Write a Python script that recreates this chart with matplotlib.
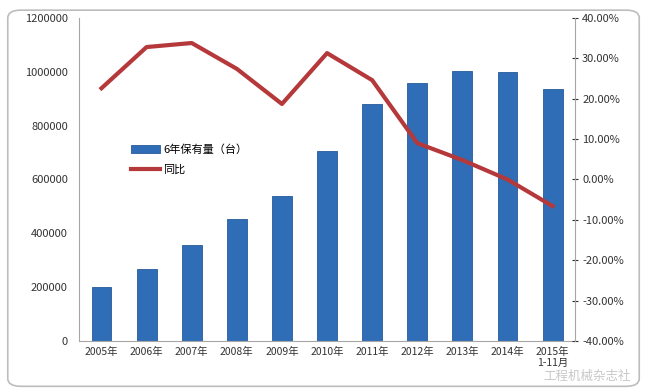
import matplotlib
matplotlib.use("Agg")
import matplotlib.pyplot as plt
from matplotlib.patches import FancyBboxPatch
from matplotlib.ticker import FuncFormatter

plt.rcParams['font.family'] = ['Noto Sans CJK SC', 'DejaVu Sans']

# data
years = ['2005年', '2006年', '2007年', '2008年', '2009年', '2010年',
         '2011年', '2012年', '2013年', '2014年', '2015年\n1-11月']
stock = [200000, 268000, 357000, 453000, 539000, 706000,
         881000, 959000, 1004000, 1000000, 937000]
yoy = [22.6, 32.8, 33.8, 27.4, 18.7, 31.3, 24.6, 9.0, 4.8, 0.0, -6.6]

fig = plt.figure(figsize=(6.47, 3.91), dpi=100)
fig.patch.set_facecolor('white')

# rounded frame round the chart
frame = FancyBboxPatch((0.012, 0.012), 0.976, 0.962, boxstyle="round,pad=0,rounding_size=0.02",
                       transform=fig.transFigure, fill=False, edgecolor='#bdbdbd', lw=1.2)
fig.patches.append(frame)

ax = fig.add_axes([0.122, 0.128, 0.767, 0.826])
x = range(len(years))
ax.bar(x, stock, width=0.44, color='#2f6db6', edgecolor='#265b9a', lw=0.6, label='6年保有量（台）')
ax.set_ylim(0, 1200000)
ax.set_xlim(-0.5, len(years) - 0.5)
ax.set_yticks(range(0, 1200001, 200000))
ax.yaxis.set_major_formatter(FuncFormatter(lambda v, p: '%d' % v))
ax.set_xticks(list(x))
ax.set_xticklabels(years, fontsize=7.5, color='#333333', linespacing=1.15)
ax.tick_params(axis='y', length=0, labelsize=8, colors='#333333', pad=8)
ax.tick_params(axis='x', length=0, pad=4)
for s in ['top', 'right']:
    ax.spines[s].set_visible(False)
ax.spines['left'].set_color('#a6a6a6')
ax.spines['bottom'].set_color('#a6a6a6')

ax2 = ax.twinx()
ax2.plot(list(x), yoy, color='#b5383a', lw=3, label='同比')
ax2.set_ylim(-40, 40)
ax2.set_yticks(range(-40, 41, 10))
ax2.yaxis.set_major_formatter(FuncFormatter(lambda v, p: '%.2f%%' % v))
ax2.tick_params(axis='y', labelsize=8, colors='#333333', length=4, direction='inout', pad=3)
for s in ['top', 'left', 'bottom']:
    ax2.spines[s].set_visible(False)
ax2.spines['right'].set_color('#a6a6a6')

h1, l1 = ax.get_legend_handles_labels()
h2, l2 = ax2.get_legend_handles_labels()
ax.legend(h1 + h2, l1 + l2, loc='upper left', bbox_to_anchor=(0.085, 0.64),
          frameon=False, fontsize=8, handlelength=2.6, labelspacing=0.9, handletextpad=0.3)

# watermark, kept in the lower right corner
fig.text(0.975, 0.038, '工程机械杂志社', fontsize=9, color='#c8c8c8',
         ha='right', va='center')

fig.savefig('out.png', dpi=100)
